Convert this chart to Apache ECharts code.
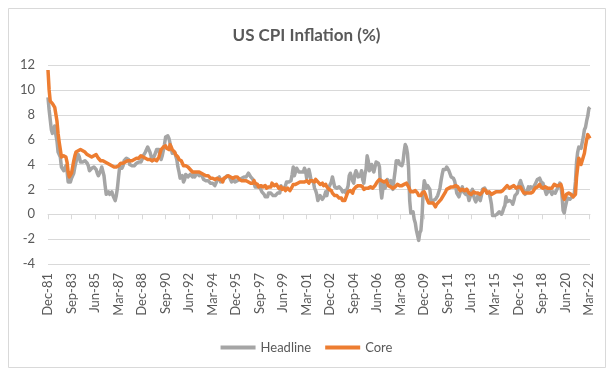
<!DOCTYPE html>
<html>
<head>
<meta charset="utf-8">
<script src="https://cdn.jsdelivr.net/npm/echarts@6/dist/echarts.min.js"></script>
<style>
html, body { margin: 0; padding: 0; background: #ffffff; }
#chart { width: 613px; height: 373px; }
</style>
</head>
<body>
<div id="chart"></div>
<script>
// ---- Data (monthly year-on-year %, Dec-81 .. Apr-22) ----
const startYear = 1981;
const startMonthIndex = 11; // December
const monthNames = ['Jan','Feb','Mar','Apr','May','Jun','Jul','Aug','Sep','Oct','Nov','Dec'];

const headline = [
  9.4,
  8.4, 7.6, 6.8, 6.5, 6.7, 7.1, 6.4, 5.9, 5.0, 5.1, 4.6, 3.8,
  3.7, 3.5, 3.6, 3.9, 3.5, 2.6, 2.5, 2.6, 2.9, 2.9, 3.3, 3.8,
  4.2, 4.6, 4.8, 4.6, 4.2, 4.2, 4.2, 4.3, 4.3, 4.3, 4.1, 3.9,
  3.5, 3.5, 3.7, 3.7, 3.8, 3.8, 3.6, 3.3, 3.1, 3.2, 3.5, 3.8,
  3.9, 3.1, 2.3, 1.6, 1.5, 1.8, 1.6, 1.6, 1.8, 1.5, 1.3, 1.1,
  1.5, 2.1, 3.0, 3.8, 3.9, 3.7, 3.9, 4.3, 4.4, 4.5, 4.5, 4.4,
  4.0, 3.9, 3.9, 3.9, 3.9, 4.0, 4.1, 4.0, 4.2, 4.2, 4.2, 4.4,
  4.7, 4.8, 5.0, 5.1, 5.4, 5.2, 5.0, 4.7, 4.3, 4.5, 4.7, 4.6,
  5.2, 5.3, 5.2, 4.7, 4.4, 4.7, 4.8, 5.6, 6.2, 6.3, 6.3, 6.1,
  5.7, 5.3, 4.9, 4.9, 5.0, 4.7, 4.4, 3.8, 3.4, 2.9, 3.0, 3.1,
  2.6, 2.8, 3.2, 3.2, 3.0, 3.1, 3.2, 3.1, 3.0, 3.2, 3.0, 2.9,
  3.3, 3.2, 3.1, 3.2, 3.2, 3.0, 2.8, 2.8, 2.7, 2.8, 2.7, 2.7,
  2.5, 2.5, 2.5, 2.4, 2.3, 2.5, 2.8, 2.9, 3.0, 2.6, 2.7, 2.7,
  2.8, 2.9, 2.9, 3.1, 3.2, 3.0, 2.8, 2.6, 2.5, 2.8, 2.6, 2.5,
  2.7, 2.7, 2.8, 2.9, 2.9, 2.8, 3.0, 2.9, 3.0, 3.0, 3.3, 3.3,
  3.0, 3.0, 2.8, 2.5, 2.2, 2.3, 2.2, 2.2, 2.2, 2.1, 1.8, 1.7,
  1.6, 1.4, 1.4, 1.4, 1.7, 1.7, 1.7, 1.6, 1.5, 1.5, 1.5, 1.6,
  1.7, 1.6, 1.7, 2.3, 2.1, 2.0, 2.1, 2.3, 2.6, 2.6, 2.6, 2.7,
  2.7, 3.2, 3.8, 3.1, 3.2, 3.7, 3.7, 3.4, 3.5, 3.4, 3.4, 3.4,
  3.7, 3.5, 2.9, 3.3, 3.6, 3.2, 2.7, 2.7, 2.6, 2.1, 1.9, 1.6,
  1.1, 1.1, 1.5, 1.6, 1.2, 1.1, 1.5, 1.8, 1.5, 2.0, 2.2, 2.4,
  2.6, 3.0, 3.0, 2.2, 2.1, 2.1, 2.1, 2.2, 2.3, 2.0, 1.8, 1.9,
  1.9, 1.7, 1.7, 2.3, 3.1, 3.3, 3.0, 2.7, 2.5, 3.2, 3.5, 3.3,
  3.0, 3.0, 3.1, 3.5, 2.8, 2.5, 3.2, 3.6, 4.7, 4.3, 3.5, 3.4,
  4.0, 3.6, 3.4, 3.5, 4.2, 4.3, 4.1, 3.8, 2.1, 1.3, 2.0, 2.5,
  2.1, 2.4, 2.8, 2.6, 2.7, 2.7, 2.4, 2.0, 2.8, 3.5, 4.3, 4.1,
  4.3, 4.0, 4.0, 3.9, 4.2, 5.0, 5.6, 5.4, 4.9, 3.7, 1.1, 0.1,
  0.0, 0.2, -0.4, -0.7, -1.3, -1.4, -2.1, -1.5, -1.3, -0.2, 1.8, 2.7,
  2.6, 2.1, 2.3, 2.2, 2.0, 1.1, 1.2, 1.1, 1.1, 1.2, 1.1, 1.5,
  1.6, 2.1, 2.7, 3.2, 3.6, 3.6, 3.6, 3.8, 3.9, 3.5, 3.4, 3.0,
  2.9, 2.9, 2.7, 2.3, 1.7, 1.7, 1.4, 1.7, 2.0, 2.2, 1.8, 1.7,
  1.6, 2.0, 1.5, 1.1, 1.4, 1.8, 2.0, 1.5, 1.2, 1.0, 1.2, 1.5,
  1.6, 1.1, 1.5, 2.0, 2.1, 2.1, 2.0, 1.7, 1.7, 1.7, 1.3, 0.8,
  -0.1, 0.0, -0.1, -0.2, 0.0, 0.1, 0.2, 0.2, 0.0, 0.2, 0.5, 0.7,
  1.4, 1.0, 0.9, 1.1, 1.0, 1.0, 0.8, 1.1, 1.5, 1.6, 1.7, 2.1,
  2.5, 2.7, 2.4, 2.2, 1.9, 1.6, 1.7, 1.9, 2.2, 2.0, 2.2, 2.1,
  2.1, 2.2, 2.4, 2.5, 2.8, 2.9, 2.9, 2.7, 2.3, 2.5, 2.2, 1.9,
  1.6, 1.5, 1.9, 2.0, 1.8, 1.6, 1.8, 1.7, 1.7, 1.8, 2.1, 2.3,
  2.5, 2.3, 1.5, 0.3, 0.1, 0.6, 1.0, 1.3, 1.4, 1.2, 1.2, 1.4,
  1.4, 1.7, 2.6, 4.2, 5.0, 5.4, 5.4, 5.3, 5.4, 6.2, 6.8, 7.0,
  7.5, 7.9, 8.5, 8.6
];

const core = [
  11.6,
  10.0, 9.1, 9.0, 8.9, 8.8, 8.6, 8.5, 7.5, 6.5, 5.8, 5.2, 4.6,
  4.7, 4.7, 4.8, 4.6, 4.2, 3.4, 3.0, 3.0, 3.3, 3.8, 4.3, 4.7,
  5.0, 5.0, 5.1, 5.1, 5.2, 5.1, 5.1, 5.1, 5.0, 4.9, 4.8, 4.8,
  4.7, 4.7, 4.6, 4.6, 4.7, 4.8, 4.8, 4.7, 4.5, 4.4, 4.3, 4.3,
  4.3, 4.2, 4.2, 4.1, 4.1, 4.0, 4.0, 4.0, 3.9, 3.8, 3.8, 3.8,
  3.8, 3.8, 3.9, 4.0, 4.1, 4.1, 4.1, 4.2, 4.2, 4.3, 4.3, 4.2,
  4.3, 4.3, 4.3, 4.3, 4.4, 4.5, 4.5, 4.4, 4.5, 4.6, 4.7, 4.7,
  4.6, 4.5, 4.5, 4.4, 4.4, 4.4, 4.4, 4.3, 4.3, 4.3, 4.4, 4.4,
  4.3, 4.4, 4.6, 4.9, 5.2, 5.3, 5.4, 5.4, 5.5, 5.3, 5.3, 5.2,
  5.6, 5.5, 5.2, 5.1, 5.0, 4.8, 4.7, 4.6, 4.4, 4.3, 4.3, 4.2,
  3.9, 3.8, 3.9, 3.9, 3.8, 3.7, 3.6, 3.5, 3.4, 3.4, 3.4, 3.3,
  3.4, 3.4, 3.4, 3.3, 3.3, 3.3, 3.2, 3.2, 3.1, 3.1, 3.1, 3.2,
  2.9, 2.9, 2.9, 2.8, 2.8, 2.9, 2.9, 2.9, 2.8, 2.8, 2.8, 2.6,
  2.9, 3.0, 3.0, 3.1, 3.1, 3.0, 3.0, 3.0, 2.9, 3.0, 3.0, 3.0,
  3.0, 2.9, 2.8, 2.7, 2.7, 2.7, 2.7, 2.6, 2.7, 2.6, 2.6, 2.6,
  2.5, 2.5, 2.5, 2.7, 2.5, 2.4, 2.4, 2.2, 2.2, 2.3, 2.2, 2.2,
  2.2, 2.3, 2.1, 2.1, 2.2, 2.2, 2.2, 2.5, 2.5, 2.3, 2.3, 2.4,
  2.4, 2.1, 2.1, 2.2, 2.0, 2.1, 2.1, 1.9, 2.0, 2.1, 2.1, 1.9,
  2.0, 2.2, 2.4, 2.3, 2.4, 2.5, 2.5, 2.6, 2.6, 2.5, 2.6, 2.6,
  2.6, 2.7, 2.7, 2.6, 2.5, 2.7, 2.7, 2.7, 2.6, 2.6, 2.8, 2.7,
  2.6, 2.6, 2.4, 2.5, 2.5, 2.3, 2.2, 2.4, 2.2, 2.2, 2.0, 1.9,
  1.9, 1.7, 1.7, 1.5, 1.6, 1.5, 1.5, 1.3, 1.2, 1.3, 1.1, 1.1,
  1.1, 1.2, 1.6, 1.8, 1.7, 1.9, 1.8, 1.7, 2.0, 2.0, 2.2, 2.2,
  2.3, 2.4, 2.3, 2.2, 2.2, 2.0, 2.1, 2.1, 2.0, 2.1, 2.1, 2.2,
  2.1, 2.1, 2.1, 2.3, 2.4, 2.6, 2.7, 2.8, 2.9, 2.7, 2.6, 2.6,
  2.7, 2.7, 2.5, 2.3, 2.2, 2.2, 2.2, 2.1, 2.1, 2.2, 2.3, 2.4,
  2.5, 2.3, 2.4, 2.3, 2.3, 2.4, 2.5, 2.5, 2.5, 2.2, 2.0, 1.8,
  1.7, 1.8, 1.8, 1.9, 1.8, 1.7, 1.5, 1.4, 1.5, 1.7, 1.7, 1.8,
  1.6, 1.3, 1.1, 0.9, 0.9, 0.9, 0.9, 0.9, 0.8, 0.6, 0.8, 0.8,
  1.0, 1.1, 1.2, 1.3, 1.5, 1.6, 1.8, 2.0, 2.0, 2.1, 2.2, 2.2,
  2.3, 2.2, 2.3, 2.3, 2.3, 2.2, 2.1, 1.9, 2.0, 2.0, 1.9, 1.9,
  1.9, 2.0, 1.9, 1.7, 1.7, 1.6, 1.7, 1.8, 1.7, 1.7, 1.7, 1.7,
  1.6, 1.6, 1.7, 1.8, 2.0, 1.9, 1.9, 1.7, 1.7, 1.8, 1.7, 1.6,
  1.6, 1.7, 1.8, 1.8, 1.7, 1.8, 1.8, 1.8, 1.9, 1.9, 2.0, 2.1,
  2.2, 2.3, 2.2, 2.1, 2.2, 2.2, 2.2, 2.3, 2.2, 2.1, 2.1, 2.2,
  2.3, 2.2, 2.0, 1.9, 1.7, 1.7, 1.7, 1.7, 1.7, 1.8, 1.7, 1.8,
  1.8, 1.8, 2.1, 2.1, 2.2, 2.3, 2.4, 2.2, 2.2, 2.1, 2.2, 2.2,
  2.2, 2.1, 2.0, 2.1, 2.0, 2.1, 2.2, 2.4, 2.4, 2.3, 2.3, 2.3,
  2.3, 2.4, 2.1, 1.4, 1.2, 1.2, 1.6, 1.7, 1.7, 1.6, 1.6, 1.6,
  1.4, 1.3, 1.6, 3.0, 3.8, 4.5, 4.3, 4.0, 4.0, 4.6, 4.9, 5.5,
  6.0, 6.4, 6.5, 6.1
];

const seriesNames = ['Headline', 'Core'];
const seriesColors = ['#A5A5A5', '#ED7D31'];
const yMin = -4, yMax = 12, yStep = 2;
const labelEvery = 21; // months between shown tick labels

const categories = headline.map(function (_, i) {
  const t = startMonthIndex + i;
  const yr = startYear + Math.floor(t / 12);
  return monthNames[t % 12] + '-' + String(yr % 100).padStart(2, '0');
});

const FONT = 'Lato';
const TXT = '#595959';
const GRID = '#D9D9D9';

const chart = echarts.init(document.getElementById('chart'), null, { renderer: 'canvas' });
chart.setOption({
  animation: false,
  backgroundColor: '#ffffff',
  textStyle: { fontFamily: FONT },
  title: {
    text: 'US CPI Inflation (%)',
    left: 'center',
    top: 22,
    textStyle: { fontFamily: FONT, fontSize: 17, fontWeight: 'bold', color: TXT }
  },
  graphic: [{
    type: 'rect',
    silent: true,
    shape: { x: 8.5, y: 8.5, width: 597, height: 359 },
    style: { fill: null, stroke: GRID, lineWidth: 1 }
  }],
  legend: {
    data: [{ name: seriesNames[0], icon: 'rect' }, { name: seriesNames[1], icon: 'rect' }],
    left: 'center',
    top: 336,
    itemWidth: 35,
    itemHeight: 4,
    itemGap: 14,
    textStyle: { fontFamily: FONT, fontSize: 13, color: TXT }
  },
  grid: { left: 48, right: 23, top: 65, bottom: 109, containLabel: false },
  xAxis: [{
    type: 'category',
    data: categories,
    boundaryGap: false,
    axisLine: { onZero: true, lineStyle: { color: GRID, width: 1 } },
    axisTick: { show: true, interval: labelEvery - 1, length: 5, lineStyle: { color: GRID } },
    axisLabel: { show: false },
    splitLine: { show: false }
  }, {
    type: 'category',
    data: categories,
    boundaryGap: false,
    position: 'bottom',
    axisLine: { show: false, onZero: false },
    axisTick: { show: false },
    axisLabel: {
      interval: labelEvery - 1,
      rotate: 90,
      margin: 9,
      fontFamily: FONT,
      fontSize: 13,
      color: TXT
    },
    splitLine: { show: false }
  }],
  yAxis: {
    type: 'value',
    min: yMin,
    max: yMax,
    interval: yStep,
    axisLine: { show: false },
    axisTick: { show: false },
    axisLabel: { margin: 13, fontFamily: FONT, fontSize: 13, color: TXT },
    splitLine: { lineStyle: { color: GRID, width: 1 } }
  },
  series: [{
    name: seriesNames[0],
    type: 'line',
    xAxisIndex: 0,
    data: headline,
    symbol: 'none',
    lineStyle: { width: 3.5, color: seriesColors[0], join: 'round' },
    itemStyle: { color: seriesColors[0] },
    z: 2
  }, {
    name: seriesNames[1],
    type: 'line',
    xAxisIndex: 0,
    data: core,
    symbol: 'none',
    lineStyle: { width: 3.5, color: seriesColors[1], join: 'round' },
    itemStyle: { color: seriesColors[1] },
    z: 3
  }]
});
</script>
</body>
</html>
